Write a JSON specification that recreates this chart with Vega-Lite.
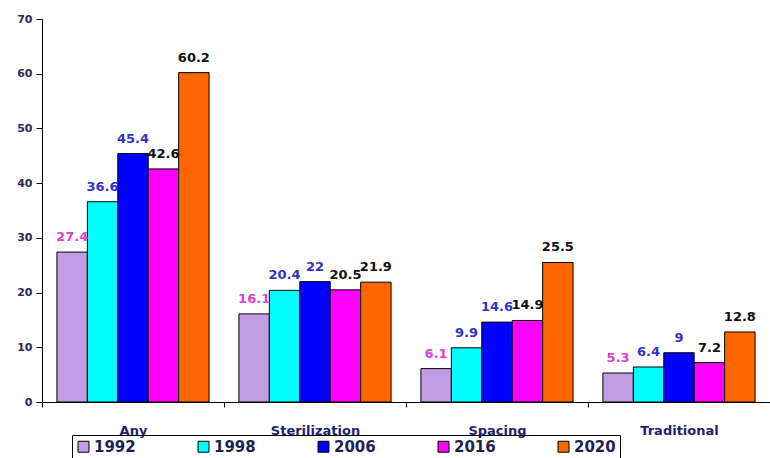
{
  "$schema": "https://vega.github.io/schema/vega-lite/v6.json",
  "autosize": {"type": "none"},
  "padding": {"left": 42, "top": 19, "right": 0, "bottom": 56},
  "width": 728,
  "height": 383,
  "background": "white",
  "config": {"view": {"stroke": null}, "font": "DejaVu Sans"},
  "data": {"values": [
    {"method": "Any", "year": "1992", "value": 27.4},
    {"method": "Any", "year": "1998", "value": 36.6},
    {"method": "Any", "year": "2006", "value": 45.4},
    {"method": "Any", "year": "2016", "value": 42.6},
    {"method": "Any", "year": "2020", "value": 60.2},
    {"method": "Sterilization", "year": "1992", "value": 16.1},
    {"method": "Sterilization", "year": "1998", "value": 20.4},
    {"method": "Sterilization", "year": "2006", "value": 22},
    {"method": "Sterilization", "year": "2016", "value": 20.5},
    {"method": "Sterilization", "year": "2020", "value": 21.9},
    {"method": "Spacing", "year": "1992", "value": 6.1},
    {"method": "Spacing", "year": "1998", "value": 9.9},
    {"method": "Spacing", "year": "2006", "value": 14.6},
    {"method": "Spacing", "year": "2016", "value": 14.9},
    {"method": "Spacing", "year": "2020", "value": 25.5},
    {"method": "Traditional", "year": "1992", "value": 5.3},
    {"method": "Traditional", "year": "1998", "value": 6.4},
    {"method": "Traditional", "year": "2006", "value": 9},
    {"method": "Traditional", "year": "2016", "value": 7.2},
    {"method": "Traditional", "year": "2020", "value": 12.8}
  ]},
  "encoding": {
    "x": {"field": "method", "type": "nominal", "sort": ["Any", "Sterilization", "Spacing", "Traditional"],
      "scale": {"paddingInner": 0, "paddingOuter": 0},
      "axis": {"title": null, "labelAngle": 0, "tickBand": "extent", "domainColor": "black", "tickColor": "black", "tickSize": 5,
        "labelFont": "DejaVu Sans", "labelFontWeight": "bold", "labelFontSize": 13, "labelColor": "#1f1f70", "labelPadding": 17}},
    "xOffset": {"field": "year", "type": "nominal", "scale": {"paddingInner": 0, "paddingOuter": 0.49}},
    "y": {"field": "value", "type": "quantitative", "scale": {"domain": [0, 70], "nice": false},
      "axis": {"title": null, "values": [0, 10, 20, 30, 40, 50, 60, 70], "grid": false, "domainColor": "black", "tickColor": "black", "tickSize": 6,
        "labelFont": "DejaVu Sans", "labelFontWeight": "bold", "labelFontSize": 11, "labelColor": "#2a2a5a", "labelPadding": 4}}
  },
  "layer": [
    {
      "mark": {"type": "bar", "stroke": "black", "strokeWidth": 1},
      "encoding": {
        "color": {"field": "year", "type": "nominal",
          "scale": {"domain": ["1992", "1998", "2006", "2016", "2020"], "range": ["#c29de6", "#00ffff", "#0000ff", "#ff00ff", "#ff6600"]},
          "legend": {"title": null, "orient": "none", "direction": "horizontal", "legendX": 30, "legendY": 416,
            "strokeColor": "black", "padding": 4, "symbolType": "square", "symbolSize": 120, "symbolStrokeColor": "black", "symbolStrokeWidth": 1,
            "labelFont": "DejaVu Sans", "labelFontWeight": "bold", "labelFontSize": 15, "labelColor": "#1f1f50", "columnPadding": 60, "labelOffset": 3}}
      }
    },
    {
      "mark": {"type": "text", "dy": -8, "baseline": "bottom", "font": "DejaVu Sans", "fontWeight": "bold", "fontSize": 13},
      "encoding": {
        "text": {"field": "value", "type": "quantitative"},
        "color": {"field": "year", "type": "nominal",
          "scale": {"domain": ["1992", "1998", "2006", "2016", "2020"], "range": ["#e040d8", "#3333cc", "#3333cc", "#111111", "#111111"]},
          "legend": null}
      }
    }
  ],
  "resolve": {"scale": {"color": "independent"}}
}
